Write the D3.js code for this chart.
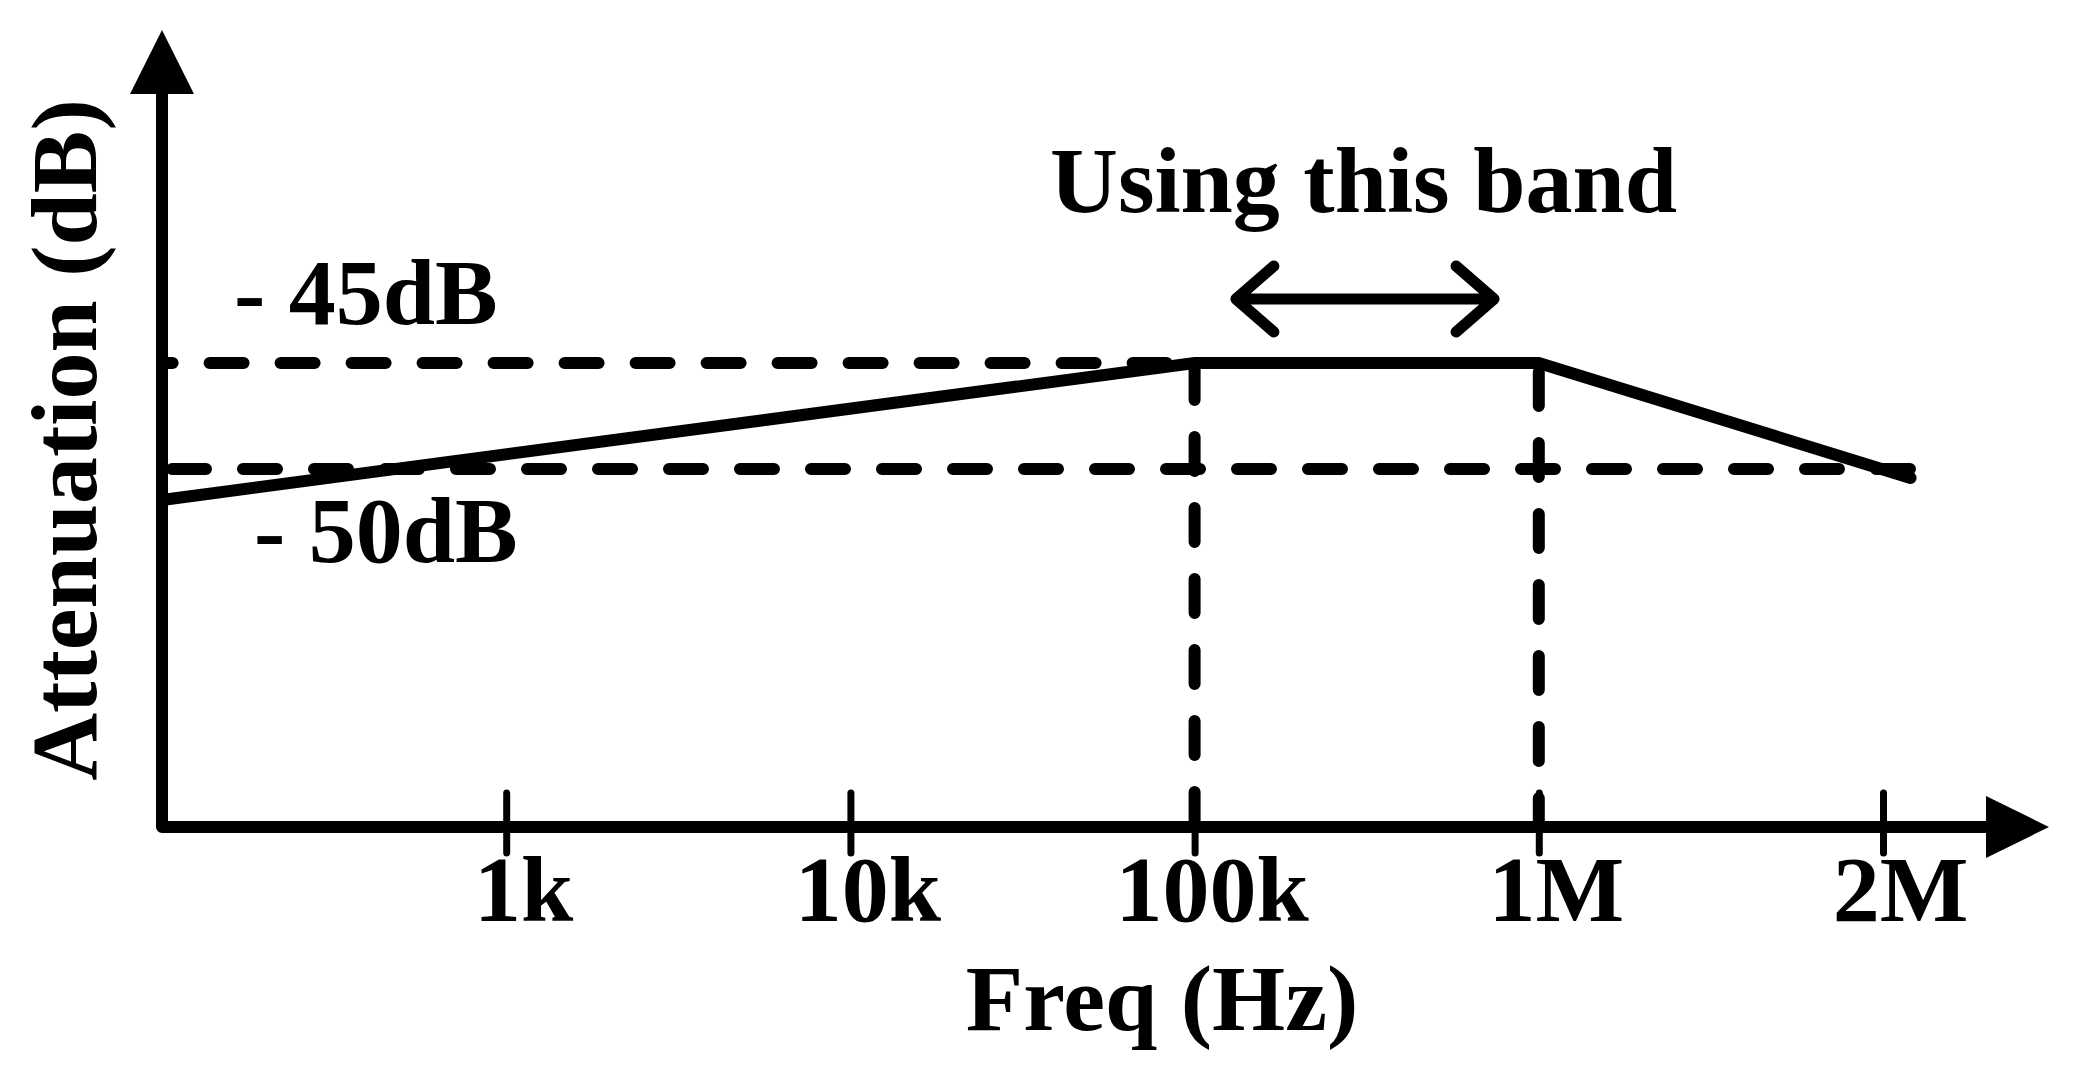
<!DOCTYPE html>
<html>
<head>
<meta charset="utf-8">
<script src="https://cdn.jsdelivr.net/npm/d3@7"></script>
<style>
html,body{margin:0;padding:0;background:#fff;}
svg{display:block;}
text{font-family:"Liberation Serif","Times New Roman",serif;font-weight:bold;fill:#000;}
</style>
</head>
<body>
<svg id="chart" width="2076" height="1072"></svg>
<script>
// ---- data ----
const tickLabels = ["1k", "10k", "100k", "1M", "2M"];
const tickPositions = [1, 2, 3, 4, 5];
// attenuation curve (x = decade position index, y = dB)
const curveX = [0, 3, 4, 5.08];
const curveY = [-51.46, -45, -45, -50.42];
const refLevels = [-45, -50];
const refLabels = ["- 45dB", "- 50dB"];
const refLineEnds = [3.13, 5.09];
const bandEdges = [3, 4];
const bandArrow = [3.12, 3.87];
const bandLabel = "Using this band";
const xTitle = "Freq (Hz)";
const yTitle = "Attenuation (dB)";

// ---- layout ----
const svg = d3.select("#chart");
const ox = 162, oy = 827;
const x = d3.scaleLinear().domain([0, 5]).range([ox, 1883]);
const y = d3.scaleLinear().domain([-45, -50]).range([363, 469]);
const black = "#000";

// axes
svg.append("path")
  .attr("d", `M${ox},92 L${ox},${oy} L1990,${oy}`)
  .attr("fill", "none").attr("stroke", black).attr("stroke-width", 12)
  .attr("stroke-linejoin", "round");
// y arrow head
svg.append("path").attr("d", `M${ox},30 L${ox - 32},94 L${ox + 32},94 Z`).attr("fill", black);
// x arrow head
svg.append("path").attr("d", `M2049,${oy} L1986,${oy - 31} L1986,${oy + 31} Z`).attr("fill", black);

// ticks via d3 axis
const xAxis = d3.axisBottom(x).tickValues(tickPositions).tickFormat((d, i) => tickLabels[i]).tickSize(0);
const gx = svg.append("g").attr("transform", `translate(0,${oy})`).call(xAxis);
gx.select(".domain").remove();
gx.selectAll(".tick line").remove();
gx.selectAll(".tick").append("line")
  .attr("x1", 0).attr("x2", 0).attr("y1", -34).attr("y2", 26)
  .attr("stroke", black).attr("stroke-width", 7).attr("stroke-linecap", "round");
gx.selectAll(".tick text")
  .attr("y", 94).attr("dy", 0).attr("dx", 17)
  .attr("font-size", 94).attr("font-family", null).attr("fill", black)
  .style("font-family", '"Liberation Serif","Times New Roman",serif').style("font-weight", "bold");

// reference dashed lines
const dash = "34,37";
const refOffsets = [23.4, 61];
refLevels.forEach((lv, i) => {
  svg.append("line")
    .attr("x1", ox).attr("x2", x(refLineEnds[i]))
    .attr("y1", y(lv)).attr("y2", y(lv))
    .attr("stroke", black).attr("stroke-width", 12)
    .attr("stroke-dasharray", dash).attr("stroke-dashoffset", refOffsets[i])
    .attr("stroke-linecap", "round");
});
// vertical dashed lines at band edges
const vOffsets = [68, 62];
bandEdges.forEach((b, i) => {
  svg.append("line")
    .attr("x1", x(b)).attr("x2", x(b))
    .attr("y1", y(-45)).attr("y2", oy)
    .attr("stroke", black).attr("stroke-width", 12)
    .attr("stroke-dasharray", dash).attr("stroke-dashoffset", vOffsets[i])
    .attr("stroke-linecap", "round");
});

// curve
const pts = curveX.map((v, i) => [v, curveY[i]]);
svg.append("path")
  .attr("d", d3.line().x(d => x(d[0])).y(d => y(d[1]))(pts))
  .attr("fill", "none").attr("stroke", black).attr("stroke-width", 12)
  .attr("stroke-linejoin", "miter").attr("stroke-linecap", "round");

// band double arrow
const ay = 299, ax1 = x(bandArrow[0]), ax2 = x(bandArrow[1]);
svg.append("path")
  .attr("d", `M${ax1},${ay} L${ax2},${ay} M${ax1 + 38},${ay - 33} L${ax1},${ay} L${ax1 + 38},${ay + 33} M${ax2 - 38},${ay - 33} L${ax2},${ay} L${ax2 - 38},${ay + 33}`)
  .attr("fill", "none").attr("stroke", black).attr("stroke-width", 11)
  .attr("stroke-linecap", "round").attr("stroke-linejoin", "round");

// texts
svg.append("text").attr("x", 1050).attr("y", 212).attr("font-size", 94).text(bandLabel);
svg.append("text").attr("x", 234).attr("y", 324).attr("font-size", 94).text(refLabels[0]);
svg.append("text").attr("x", 254).attr("y", 562).attr("font-size", 94).text(refLabels[1]);
svg.append("text").attr("x", 1162).attr("y", 1030).attr("font-size", 94)
  .attr("text-anchor", "middle").text(xTitle);
svg.append("text").attr("transform", "translate(96,440) rotate(-90)")
  .attr("font-size", 94).attr("text-anchor", "middle").text(yTitle);
</script>
</body>
</html>
